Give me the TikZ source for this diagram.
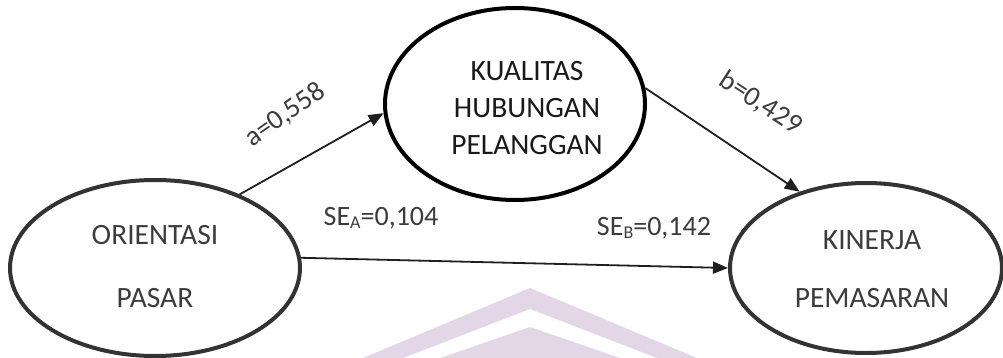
\documentclass[tikz,border=0pt]{standalone}
\usepackage{fontspec}
\setmainfont{Carlito}
\usetikzlibrary{shapes.geometric,arrows.meta}
\definecolor{wm}{RGB}{226,214,231}
\definecolor{dk}{RGB}{51,51,51}
\definecolor{tx}{RGB}{60,60,60}
\tikzset{
  ell/.style={ellipse,draw=dk,line width=4pt,inner sep=0pt},
  etext/.style={align=center,text=tx,font=\fontsize{29.5}{37}\selectfont},
  lbl/.style={text=tx,font=\fontsize{28}{32}\selectfont,inner sep=0pt},
  arr/.style={line width=1.8pt,draw=black!88,-{Triangle[length=15pt,width=12pt]}}
}
\newcommand{\subsc}[1]{\raisebox{-0.12em}{\fontsize{18}{18}\selectfont #1}}
\begin{document}
\begin{tikzpicture}[x=1pt,y=-1pt]
\useasboundingbox (0,0) rectangle (1003,358);
% watermark
\fill[wm] (363,358) -- (530,288) -- (697,358) -- (657,358) -- (530,309) -- (403,358) -- cycle;
\fill[wm] (440,358) -- (530,327) -- (620,358) -- cycle;
% ellipses
\node[ell,minimum width=290pt,minimum height=176pt] (op) at (155,268) {};
\node[ell,draw=black,minimum width=260pt,minimum height=192pt] (khp) at (515,104) {};
\node[ell,minimum width=272pt,minimum height=170pt] (kp) at (866,268) {};
% texts
\node[etext] (optext) at (155,267) {ORIENTASI\\[26pt]PASAR};
\node[etext,text=black!90] (khptext) at (527,108) {KUALITAS\\HUBUNGAN\\PELANGGAN};
\node[etext] (kptext) at (872,269) {KINERJA\\[21pt]PEMASARAN};
% connectors
\draw[arr] (op.41) -- (khp.184);
\draw[arr] (khp.7) -- (kp.131);
\draw[arr] (op.4) -- (kp.180);
% labels
\node[lbl,rotate=35] (la) at (285,115) {a=0,558};
\node[lbl,rotate=-33] (lb) at (761,103) {b=0,429};
\node[lbl] (lsea) at (381,218) {SE\subsc{A}=0,104};
\node[lbl] (lseb) at (654,228) {SE\subsc{B}=0,142};
\end{tikzpicture}
\end{document}
